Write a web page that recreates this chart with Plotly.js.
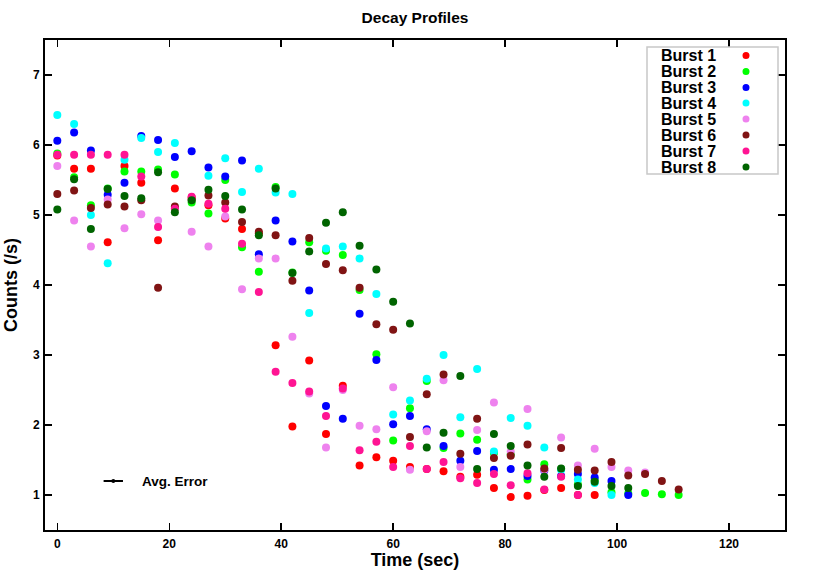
<!DOCTYPE html>
<html>
<head>
<meta charset="utf-8">
<script src="https://cdn.plot.ly/plotly-3.0.1.min.js"></script>
<style>html,body{margin:0;padding:0;background:#fff;}#chart{width:814px;height:570px;}</style>
</head>
<body>
<div id="chart"></div>
<script>
// Time grid (sec)
const times = [0,3,6,9,12,15,18,21,24,27,30,33,36,39,42,45,48,51,54,57,60,63,66,69,72,75,78,81,84,87,90,93,96,99,102,105,108,111];

const seriesNames = ["Burst 1","Burst 2","Burst 3","Burst 4","Burst 5","Burst 6","Burst 7","Burst 8"];
const seriesColors = ["#ff0000","#00ff00","#0000ff","#00ffff","#ee82ee","#801414","#ff1493","#006400"];

const burst1 = [5.85,5.66,5.66,4.61,5.70,5.46,4.64,5.38,5.25,5.14,4.95,4.80,4.74,3.14,1.98,2.92,1.87,2.56,1.42,1.54,1.49,1.40,1.37,1.34,1.26,1.29,1.10,0.97,0.99,1.07,1.10,1.00,1.00];
const burst2 = [5.88,5.54,5.14,5.38,5.62,5.62,5.65,5.58,5.18,5.02,5.50,4.54,4.19,5.40,4.18,4.61,4.49,4.43,3.93,3.01,1.78,2.24,2.63,1.67,1.88,1.79,1.60,1.58,1.22,1.44,1.37,1.15,1.21,1.04,1.02,1.03,1.01,1.00];
const burst3 = [6.06,6.18,5.92,5.29,5.46,6.13,6.07,5.83,5.91,5.68,5.55,5.78,4.44,4.92,4.62,3.92,2.27,2.09,3.59,2.93,2.01,2.13,1.94,1.70,1.49,1.63,1.36,1.37,1.27,1.35,1.27,1.30,1.25,1.20,1.00];
const burst4 = [6.43,6.30,5.00,4.31,5.79,6.10,5.90,6.03,null,5.56,5.81,5.33,5.66,5.32,5.30,3.60,4.52,4.55,4.38,3.87,2.15,2.35,2.66,3.00,2.11,2.80,1.62,2.10,1.99,1.68,1.36,1.22,1.17,1.00];
const burst5 = [5.70,4.92,4.55,5.22,4.81,5.01,4.92,5.10,4.76,4.55,4.98,3.94,4.38,4.38,3.26,2.45,1.68,2.50,1.99,1.94,2.54,1.36,1.91,2.64,1.40,1.93,2.32,1.62,2.23,1.36,1.82,1.42,1.66,1.40,1.35,1.32];
const burst6 = [5.30,5.35,5.10,5.15,5.12,5.21,3.96,5.12,5.22,5.28,5.18,4.90,4.76,4.71,4.06,4.67,4.30,4.21,3.96,3.44,3.36,1.83,2.44,2.72,1.59,2.09,1.53,1.56,1.72,1.38,1.67,1.36,1.35,1.47,1.28,1.30,1.20,1.08];
const burst7 = [5.86,5.86,5.86,5.86,5.86,5.55,4.83,5.09,5.26,5.16,5.09,4.59,3.90,2.76,2.60,2.48,2.13,2.52,1.64,1.76,1.40,1.70,1.37,1.47,1.24,1.17,1.30,1.14,1.31,1.08,1.26,1.00];
const burst8 = [5.08,5.51,4.80,5.37,5.27,5.24,5.61,5.04,5.21,5.36,5.27,5.08,4.71,5.38,4.17,4.48,4.89,5.04,4.56,4.22,3.76,3.45,1.68,1.89,2.70,1.37,1.87,1.70,1.42,1.26,1.38,1.13,1.19,1.13,1.10];

const avgErrorX = [10];
const avgErrorY = [1.2];
const avgErrorHalf = [1.55];

const xTicks = [0,20,40,60,80,100,120];
const yTicks = [1,2,3,4,5,6,7];

const allSeries = [burst1,burst2,burst3,burst4,burst5,burst6,burst7,burst8];
const FONT = "Liberation Sans, Arial, Helvetica, sans-serif";

const traces = allSeries.map((ys, i) => ({
  type: "scatter",
  mode: "markers",
  name: seriesNames[i],
  x: times.slice(0, ys.length),
  y: ys,
  marker: {color: seriesColors[i], size: 8, line: {width: 0}},
  showlegend: false,
  hoverinfo: "x+y+name"
}));

traces.push({
  type: "scatter",
  mode: "markers",
  x: avgErrorX,
  y: avgErrorY,
  marker: {color: "#000", size: 4},
  error_x: {type: "data", array: avgErrorHalf, visible: true, color: "#000", thickness: 2, width: 1},
  showlegend: false,
  hoverinfo: "skip"
});

// Custom legend (text left, marker right, as in the reference)
const L = 45, T = 40, W = 740, H = 490;
const px = v => (v - L) / W;
const py = v => (T + H - v) / H;
const rowY = [55.5, 71.5, 87.5, 103, 119, 135, 151, 167];

const shapes = [{
  type: "rect", xref: "paper", yref: "paper",
  x0: px(647), x1: px(778), y0: py(174), y1: py(47),
  fillcolor: "#ffffff", line: {color: "#c8c8c8", width: 1.5}, layer: "above"
}];
const annotations = [];
seriesNames.forEach((n, i) => {
  annotations.push({
    xref: "paper", yref: "paper", x: px(659), y: py(rowY[i]),
    xanchor: "left", yanchor: "middle", showarrow: false,
    text: n, font: {family: FONT, size: 16, weight: "bold", color: "#000"}
  });
  shapes.push({
    type: "circle", xref: "paper", yref: "paper",
    xsizemode: "pixel", ysizemode: "pixel",
    xanchor: px(746), yanchor: py(rowY[i]),
    x0: -3.5, x1: 3.5, y0: -3.5, y1: 3.5,
    fillcolor: seriesColors[i], line: {width: 0}, layer: "above"
  });
});
annotations.push({
  xref: "x", yref: "y", x: 14.8, y: avgErrorY[0],
  xanchor: "left", yanchor: "middle", showarrow: false,
  text: "Avg. Error", font: {family: FONT, size: 13.5, weight: "bold", color: "#000"}
});

const axisCommon = {
  showgrid: false, zeroline: false,
  showline: true, linecolor: "#000", linewidth: 2, mirror: "allticks",
  ticks: "inside", ticklen: 7, tickwidth: 1.5, tickcolor: "#000",
  tickfont: {family: FONT, size: 12, weight: "bold", color: "#000"}
};

const layout = {
  width: 814, height: 570,
  margin: {l: L, r: 814 - L - W, t: T, b: 570 - T - H, pad: 0},
  paper_bgcolor: "#fff", plot_bgcolor: "#fff",
  font: {family: FONT, color: "#000"},
  title: {text: "Decay Profiles", font: {family: FONT, size: 15.5, weight: "bold"}, x: 0.5, xref: "paper", y: 1 - 18/570, yanchor: "middle"},
  xaxis: Object.assign({}, axisCommon, {
    range: [-2.2, 130], tickvals: xTicks, ticktext: xTicks.map(String), ticklabelstandoff: 2,
    title: {text: "Time (sec)", font: {family: FONT, size: 18, weight: "bold"}, standoff: 7}
  }),
  yaxis: Object.assign({}, axisCommon, {
    range: [0.5, 7.5], tickvals: yTicks, ticktext: yTicks.map(String), ticklabelstandoff: 1,
    title: {text: "Counts (/s)", font: {family: FONT, size: 18, weight: "bold"}, standoff: 11}
  }),
  shapes: shapes,
  annotations: annotations,
  showlegend: false
};

Plotly.newPlot("chart", traces, layout, {displayModeBar: false, staticPlot: true});
</script>
</body>
</html>
